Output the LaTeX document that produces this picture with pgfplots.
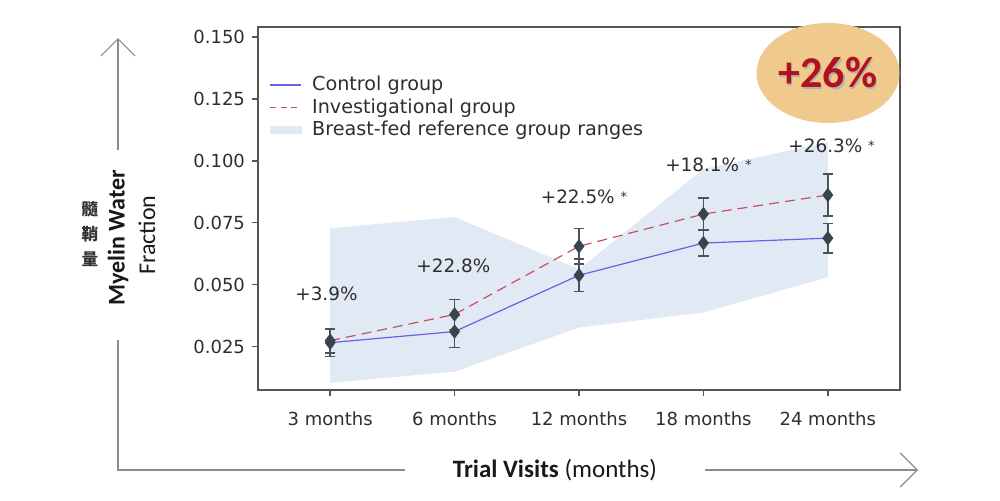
\documentclass[border=0pt]{standalone}
\usepackage{pgfplots}
\pgfplotsset{compat=1.18}
\usepackage{fontspec}
\setmainfont{DejaVu Sans}
\newfontfamily\carl{Carlito}
\newfontfamily\cjk{Noto Sans CJK TC}
\usetikzlibrary{arrows.meta}
\definecolor{controlcol}{HTML}{6464E0}
\definecolor{invcol}{HTML}{C8505E}
\definecolor{bandcol}{HTML}{E1E9F4}
\definecolor{markcol}{HTML}{3A444E}
\definecolor{errcol}{HTML}{4A525A}
\definecolor{ellcol}{HTML}{F0C98C}
\definecolor{redtxt}{HTML}{B2121B}
\definecolor{txtcol}{HTML}{2E2E2E}
\definecolor{framecol}{HTML}{555555}
\definecolor{arrcol}{HTML}{8C8C8C}
\begin{document}
\begin{tikzpicture}
\path[use as bounding box] (0,0) rectangle (500pt,250pt);
\begin{axis}[
  at={(129pt,55pt)}, anchor=south west,
  width=321pt, height=181.5pt, scale only axis,
  xmin=-0.58, xmax=4.58, ymin=0.0075, ymax=0.154,
  xtick={0,1,2,3,4},
  xticklabels={3 months,6 months,12 months,18 months,24 months},
  ytick={0.025,0.05,0.075,0.1,0.125,0.15},
  yticklabel style={/pgf/number format/.cd, fixed, fixed zerofill, precision=3, assume math mode=true},
  tick label style={font=\fontsize{9}{11}\selectfont, text=txtcol},
  xticklabel style={yshift=-4.5pt},
  tick pos=left, tick align=outside,
  major tick length=3pt,
  tick style={framecol, line width=0.7pt},
  axis line style={framecol, line width=0.75pt},
  legend style={at={(0.012,0.882)}, anchor=north west, draw=none, fill=none,
    font=\fontsize{9.6}{11}\selectfont, text=txtcol, row sep=-1.6pt, inner sep=1pt},
  legend cell align=left,
]
% band
\addplot[fill=bandcol, draw=none, forget plot] coordinates {
  (0,0.0728) (1,0.0773) (2,0.0562) (3,0.0967) (4,0.1075)
  (4,0.0530) (3,0.0388) (2,0.0327) (1,0.0149) (0,0.0104)} -- cycle;
% lines
\addplot[controlcol, line width=0.6pt,
  legend image code/.code={\path[draw=none, fill=none] (0pt,0pt) -- (20pt,0pt); \draw[controlcol, line width=0.7pt] (1pt,0pt) -- (16.5pt,0pt);}]
  coordinates {(0,0.0266) (1,0.0311) (2,0.0538) (3,0.0668) (4,0.0688)};
\addlegendentry{Control group}
\addplot[invcol, line width=0.6pt, dash pattern=on 5pt off 3pt,
  legend image code/.code={\path[draw=none, fill=none] (0pt,0pt) -- (20pt,0pt); \draw[invcol, line width=0.6pt, dash pattern=on 3pt off 2.2pt] (1pt,0pt) -- (16.5pt,0pt);}]
  coordinates {(0,0.0274) (1,0.0380) (2,0.0655) (3,0.0785) (4,0.0862)};
\addlegendentry{Investigational group}
\addlegendimage{legend image code/.code={\path[draw=none, fill=none] (0pt,0pt) -- (20pt,0pt); \fill[bandcol] (1pt,-1.75pt) rectangle (16.5pt,1.75pt);}}
\addlegendentry{Breast-fed reference group ranges}
% error bars and markers
\addplot[forget plot, draw=none, mark=diamond*, mark size=3.3pt, mark options={fill=markcol, draw=markcol},
  error bars/.cd, y dir=both, y explicit,
  error bar style={errcol, line width=0.8pt},
  error mark options={errcol, rotate=90, mark size=2.6pt, line width=0.8pt}]
  coordinates {(0,0.0266) +- (0,0.0055) (1,0.0311) +- (0,0.0065) (2,0.0538) +- (0,0.0065)
               (3,0.0668) +- (0,0.0053) (4,0.0688) +- (0,0.0059)};
\addplot[forget plot, draw=none, mark=diamond*, mark size=3.3pt, mark options={fill=markcol, draw=markcol},
  error bars/.cd, y dir=both, y explicit,
  error bar style={errcol, line width=0.8pt},
  error mark options={errcol, rotate=90, mark size=2.6pt, line width=0.8pt}]
  coordinates {(0,0.0274) +- (0,0.0050) (1,0.0380) +- (0,0.0060) (2,0.0655) +- (0,0.0072)
               (3,0.0785) +- (0,0.0065) (4,0.0862) +- (0,0.0085)};
% annotations
\begin{scope}[every node/.style={font=\fontsize{9.2}{11}\selectfont, text=txtcol}]
\node at (axis cs:-0.03,0.0465) {+3.9\%};
\node at (axis cs:0.99,0.0578) {+22.8\%};
\node at (axis cs:2.04,0.0854) {+22.5\% {\fontsize{6.5}{7}\selectfont\raisebox{1pt}{*}}};
\node at (axis cs:3.04,0.0984) {+18.1\% {\fontsize{6.5}{7}\selectfont\raisebox{1pt}{*}}};
\node at (axis cs:4.03,0.1061) {+26.3\% {\fontsize{6.5}{7}\selectfont\raisebox{1pt}{*}}};
\end{scope}
\end{axis}
\begin{scope}[x=0.5pt, y=0.5pt]
% ellipse badge
\fill[ellcol] (828,427) ellipse [x radius=35.75pt, y radius=25pt];
\node[text=black!30, font=\carl\bfseries\fontsize{22}{24}\selectfont, xshift=0.6pt, yshift=-0.6pt] at (828,427) {+26\%};
\node[text=redtxt, font=\carl\bfseries\fontsize{22}{24}\selectfont] at (828,427) {+26\%};
% outer arrows
\draw[arrcol, line width=0.6pt] (118,160) -- (118,30) -- (405,30);
\draw[arrcol, line width=0.6pt, -{Straight Barb[length=8.5pt, width=17pt]}] (705,30) -- (918,30);
\draw[arrcol, line width=0.6pt, -{Straight Barb[length=8.5pt, width=17pt]}] (118,350) -- (118,462);
% axis titles
\node[font=\carl\fontsize{12.5}{14}\selectfont, text=black!90] at (555,30) {\textbf{Trial Visits} (months)};
\node[rotate=90, font=\carl\bfseries\fontsize{12}{14}\selectfont, text=black!90] at (118,262) {Myelin Water};
\node[rotate=90, font=\carl\fontsize{12}{14}\selectfont, text=black!90] at (147,265) {Fraction};
\node[font=\cjk\bfseries\fontsize{8.3}{12.5}\selectfont, text=black!80, align=center] at (90,266) {髓\\鞘\\量};
\end{scope}
\end{tikzpicture}
\end{document}
